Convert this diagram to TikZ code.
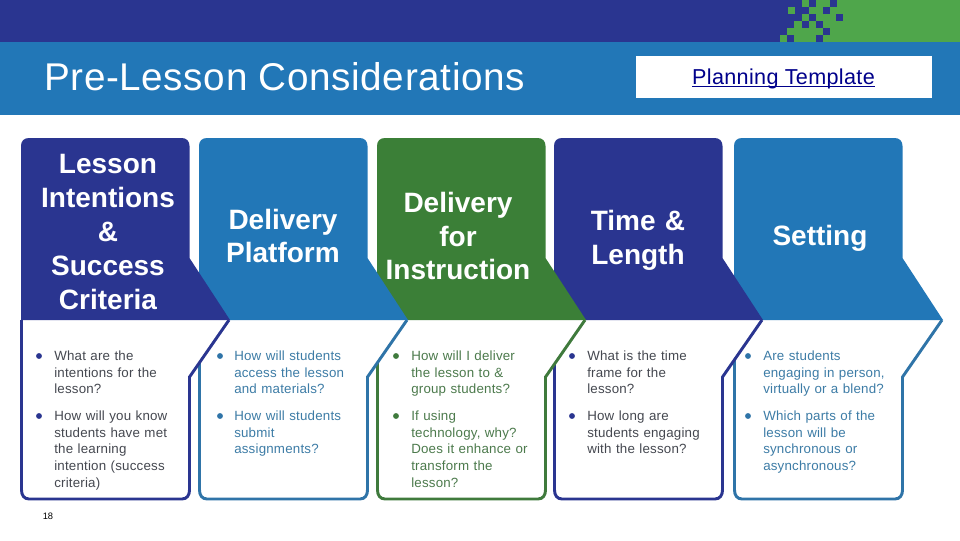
\documentclass[tikz,border=0pt]{standalone}
\usepackage{fontspec}
\setmainfont{Liberation Sans}
\definecolor{navy}{HTML}{2A3590}
\definecolor{midblue}{HTML}{2277B7}
\definecolor{midline}{HTML}{2F74A8}
\definecolor{leaf}{HTML}{3B7F37}
\definecolor{leafline}{HTML}{3F7A3C}
\definecolor{grn}{HTML}{4FA64B}
\definecolor{linkblue}{HTML}{00008B}
\definecolor{greytxt}{HTML}{454850}
\definecolor{bluetxt}{HTML}{3D7CA6}
\definecolor{greentxt}{HTML}{4C7A4C}
\tikzset{x=0.75pt,y=-0.75pt,
 headtext/.style={text=white,font=\fontsize{21}{25.4}\selectfont\bfseries,align=center,text width=125pt},
 bodytxt/.style={text=#1,font=\fontsize{10}{12.55}\selectfont\addfontfeature{LetterSpace=1.5},align=left,anchor=north west,inner sep=0pt,text width=100pt},
 bullet/.style={circle,inner sep=0pt,minimum size=4.4pt,anchor=center}
}
\newcommand{\ulfix}[1]{\setbox0\hbox{#1}\rlap{\rule[-1.9pt]{\wd0}{0.7pt}}\box0}
\newcommand{\panel}[3]{%
 % #1 = left x, #2 = fill colour, #3 = outline colour
 \draw[#3,line width=2.2pt,fill=white,miter limit=10]
   (#1+0.5,320) -- (#1+0.5,490) .. controls (#1+0.5,495) and (#1+3,499) .. (#1+8,499)
   -- (#1+161,499) .. controls (#1+166,499) and (#1+168.5,495) .. (#1+168.5,490)
   -- (#1+168.5,377) -- (#1+208,320);
 \fill[#2] (#1,320) -- (#1,146) .. controls (#1,141) and (#1+3,138) .. (#1+8,138)
   -- (#1+160.5,138) .. controls (#1+165.5,138) and (#1+168.5,141) .. (#1+168.5,146)
   -- (#1+168.5,258) -- (#1+209,320) -- cycle;
}
\begin{document}
\begin{tikzpicture}
\useasboundingbox (0,0) rectangle (960,540);
\fill[white] (0,0) rectangle (960,540);
\fill[navy] (0,0) rectangle (960,42);
% green field with stepped edge
\fill[grn] (802,0) -- (960,0) -- (960,42) -- (780,42) -- (780,35) -- (787,35) -- (787,28)
  -- (794,28) -- (794,21) -- (802,21) -- (802,14) -- (808,14) -- (808,7) -- (802,7) -- cycle;
\fill[grn] (788,7) rectangle (795,14);
% dark pixels
\foreach \xa/\ya in {809/0,830/0,802/7,823/7,809/14,836/14,802/21,816/21,823/28,787/35,816/35}
  \fill[navy] (\xa,\ya) rectangle (\xa+6.6,\ya+6.6);
\fill[midblue] (0,42) rectangle (960,115);
\node[anchor=west,inner sep=0pt,text=white,font=\fontsize{29}{32}\selectfont] (title) at (44,77) {\addfontfeature{LetterSpace=1.6}Pre-Lesson Considerations};
\node[fill=white,minimum width=222pt,minimum height=31.5pt,inner sep=0pt] (plan) at (784,77) {};
\node[inner sep=0pt,text=linkblue,font=\fontsize{16.2}{18}\selectfont\addfontfeature{LetterSpace=1.5}] (plantext) at (783.5,79) {\ulfix{Planning Template}};
\panel{734}{midblue}{midline}
\panel{554}{navy}{navy}
\panel{377}{leaf}{leafline}
\panel{199}{midblue}{midline}
\panel{21}{navy}{navy}
\node[headtext] (h1) at (108,232) {Lesson\\Intentions\\\&\\Success\\Criteria};
\node[headtext] (h2) at (283,236) {Delivery\\Platform};
\node[headtext] (h3) at (458,236) {Delivery\\for\\Instruction};
\node[headtext] (h4) at (638,240) {Time \&\\Length};
\node[headtext] (h5) at (820,238) {Setting};
% bullets
\foreach \bx/\cc in {39/navy,220/midline,396/leafline,572/navy,748/midline}{
  \node[bullet,fill=\cc] at (\bx,356) {};
  \node[bullet,fill=\cc] at (\bx,416) {};
}
\node[bodytxt=greytxt] (a1) at (54,350.5) {What are the\\intentions for the\\lesson?};
\node[bodytxt=greytxt] (a2) at (54,410.5) {How will you know\\students have met\\the learning\\intention (success\\criteria)};
\node[bodytxt=bluetxt] (b1) at (234,350.5) {How will students\\access the lesson\\and materials?};
\node[bodytxt=bluetxt] (b2) at (234,410.5) {How will students\\submit\\assignments?};
\node[bodytxt=greentxt] (c1) at (411,350.5) {How will I deliver\\the lesson to \&\\group students?};
\node[bodytxt=greentxt] (c2) at (411,410.5) {If using\\technology, why?\\Does it enhance or\\transform the\\lesson?};
\node[bodytxt=greytxt] (d1) at (587,350.5) {What is the time\\frame for the\\lesson?};
\node[bodytxt=greytxt] (d2) at (587,410.5) {How long are\\students engaging\\with the lesson?};
\node[bodytxt=bluetxt] (e1) at (763,350.5) {Are students\\engaging in person,\\virtually or a blend?};
\node[bodytxt=bluetxt] (e2) at (763,410.5) {Which parts of the\\lesson will be\\synchronous or\\asynchronous?};
\node[anchor=center,inner sep=0pt,text=black,font=\fontsize{7}{8}\selectfont] (pg) at (48,516) {18};
\end{tikzpicture}
\end{document}
